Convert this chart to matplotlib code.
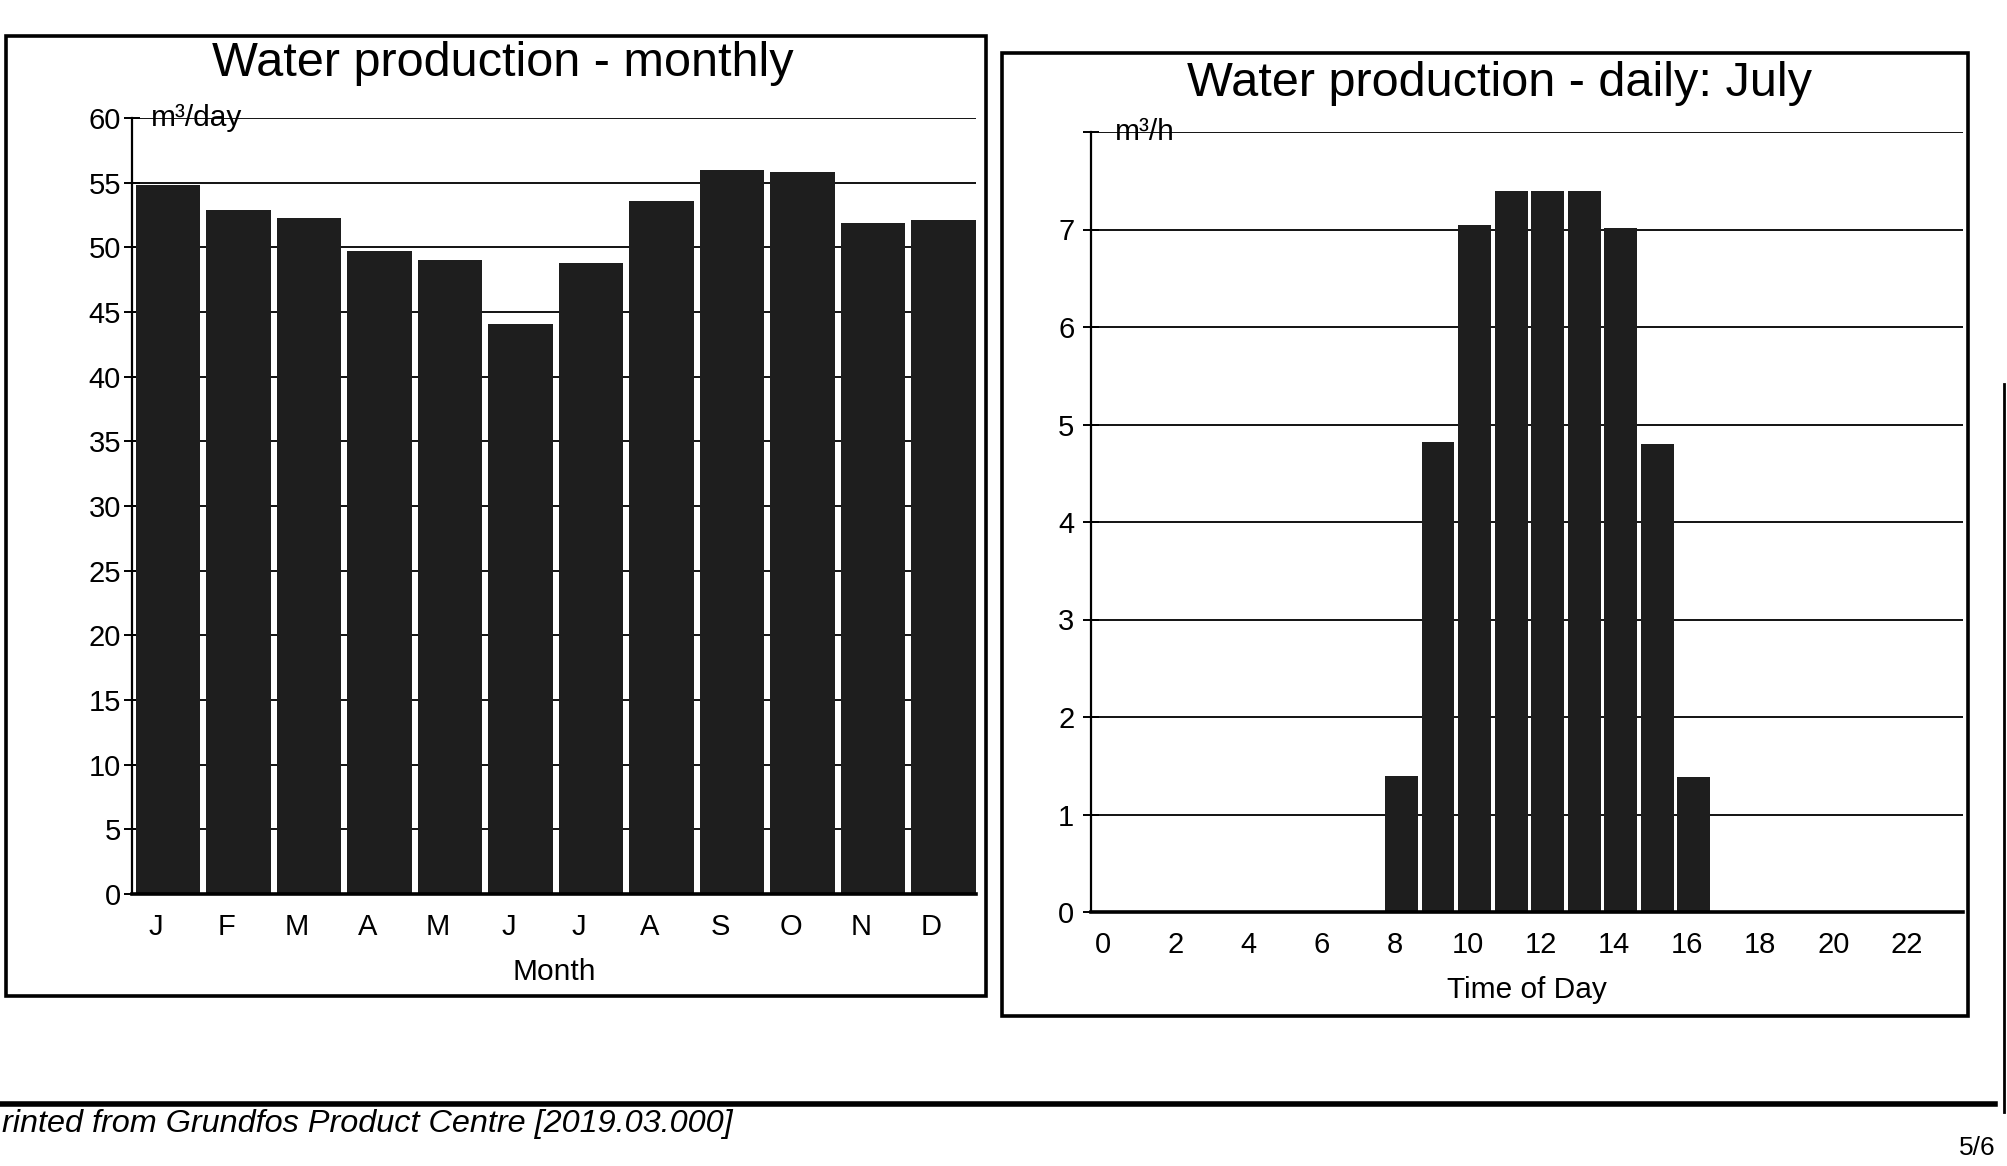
import matplotlib
matplotlib.use("Agg")
import matplotlib.pyplot as plt
from matplotlib.patches import Rectangle
from matplotlib.lines import Line2D

plt.rcParams['font.family'] = ['Liberation Sans', 'DejaVu Sans']

# ---------------- data ----------------
months = ['J', 'F', 'M', 'A', 'M', 'J', 'J', 'A', 'S', 'O', 'N', 'D']
monthly_m3_day = [54.8, 52.9, 52.3, 49.7, 49.0, 44.1, 48.8, 53.6, 56.0, 55.8, 51.9, 52.1]
monthly_yticks = list(range(0, 61, 5))

hours = [8, 9, 10, 11, 12, 13, 14, 15, 16]
july_m3_h = [1.4, 4.82, 7.05, 7.4, 7.4, 7.4, 7.02, 4.8, 1.38]
hour_ticks = list(range(0, 24, 2))
daily_yticks = list(range(0, 9))
daily_ylabels = [str(v) for v in range(0, 8)] + ['']

title_left = 'Water production - monthly'
title_right = 'Water production - daily: July'
footer = 'rinted from Grundfos Product Centre [2019.03.000]'
page = '5/6'

W, H = 2008, 1166
fig = plt.figure(figsize=(W / 100, H / 100), dpi=100)
fig.patch.set_facecolor('white')

def fx(px):
    return px / W

def fy(py):
    return 1 - py / H

BAR = '#1e1e1e'
TICK_FS = 21
LABEL_FS = 21.5
TITLE_FS = 35

def style_axes(ax):
    ax.set_axisbelow(True)
    for s in ['top', 'right']:
        ax.spines[s].set_visible(False)
    ax.spines['left'].set_linewidth(1.6)
    ax.spines['bottom'].set_linewidth(2.6)
    ax.yaxis.grid(True, color='black', linewidth=1.3)
    ax.xaxis.grid(False)
    ax.tick_params(axis='y', direction='inout', length=12, width=1.4,
                   labelsize=TICK_FS, pad=2)
    ax.tick_params(axis='x', length=0, labelsize=TICK_FS, pad=14)

# ---------------- left: monthly ----------------
axL = fig.add_axes([fx(132), fy(894), fx(976) - fx(132), fy(118) - fy(894)])
xm = list(range(len(months)))
axL.bar([x + 0.17 for x in xm], monthly_m3_day, width=0.92, color=BAR, zorder=2)
axL.set_xlim(-0.34, 11.63)
axL.set_ylim(0, 60)
axL.set_yticks(monthly_yticks)
axL.set_xticks(xm)
axL.set_xticklabels(months)
style_axes(axL)
axL.set_xlabel('Month', fontsize=LABEL_FS, labelpad=12)
axL.text(0.022, 60, 'm³/day', transform=axL.get_yaxis_transform(),
         ha='left', va='center', fontsize=21.5, zorder=3)

# ---------------- right: daily July ----------------
axR = fig.add_axes([fx(1091), fy(912), fx(1963) - fx(1091), fy(132) - fy(912)])
axR.bar([h + 0.18 for h in hours], july_m3_h, width=0.9, color=BAR, zorder=2)
axR.set_xlim(-0.32, 23.55)
axR.set_ylim(0, 8)
axR.set_yticks(daily_yticks)
axR.set_yticklabels(daily_ylabels)
axR.set_xticks(hour_ticks)
style_axes(axR)
axR.tick_params(axis='y', pad=6)
axR.set_xlabel('Time of Day', fontsize=LABEL_FS, labelpad=12)
axR.text(0.027, 8, 'm³/h', transform=axR.get_yaxis_transform(),
         ha='left', va='center', fontsize=21.5, zorder=3)

# ---------------- titles ----------------
fig.text(fx(503), fy(64), title_left, ha='center', va='center', fontsize=TITLE_FS)
fig.text(fx(1500), fy(83), title_right, ha='center', va='center', fontsize=TITLE_FS)

# ---------------- frames ----------------
fig.patches.append(Rectangle((fx(6), fy(996)), fx(986) - fx(6), fy(36) - fy(996),
                             transform=fig.transFigure, fill=False,
                             edgecolor='black', linewidth=2.6))
fig.patches.append(Rectangle((fx(1002), fy(1016)), fx(1968) - fx(1002), fy(53) - fy(1016),
                             transform=fig.transFigure, fill=False,
                             edgecolor='black', linewidth=2.6))

# page rules
fig.lines.append(Line2D([0, fx(1995)], [fy(1104), fy(1104)], transform=fig.transFigure,
                        color='black', linewidth=4))
fig.lines.append(Line2D([fx(2004), fx(2004)], [fy(384), fy(1112)], transform=fig.transFigure,
                        color='black', linewidth=2))

# footer
fig.text(fx(2), fy(1124), footer, ha='left', va='center', fontsize=23.3, style='italic')
fig.text(fx(1977), fy(1148), page, ha='center', va='center', fontsize=19)

fig.savefig('out.png', dpi=100, facecolor='white')
